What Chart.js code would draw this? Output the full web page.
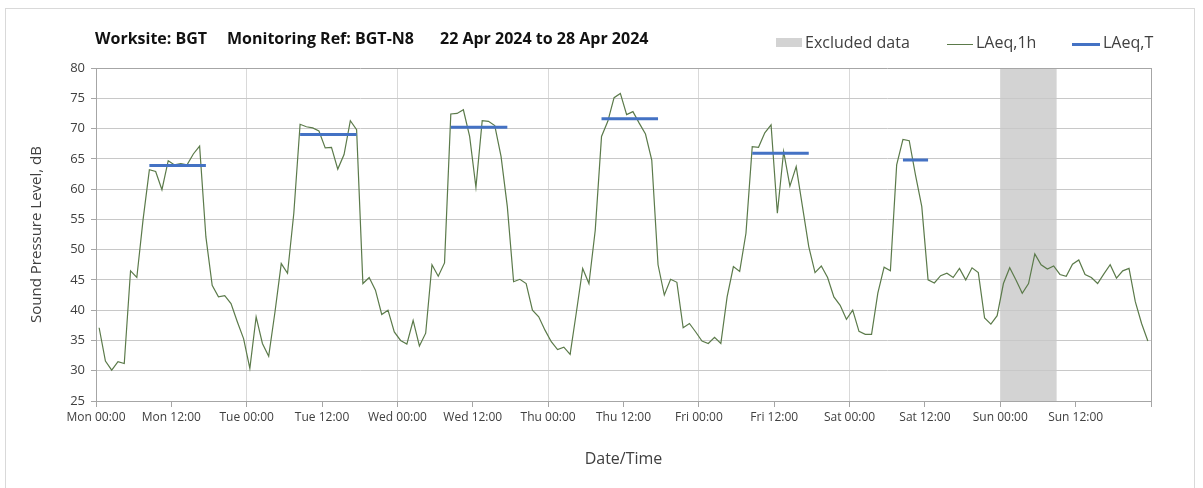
<!DOCTYPE html>
<html>
<head>
<meta charset="utf-8">
<script src="https://cdn.jsdelivr.net/npm/chart.js@4.4.1/dist/chart.umd.min.js"></script>
<style>
  html, body { margin: 0; padding: 0; background: #fff; }
  #wrap { position: relative; width: 1203px; height: 488px; overflow: hidden; font-family: "Open Sans", sans-serif; }
  #frame { position: absolute; left: 5px; top: 8px; width: 1190px; height: 500px; border: 1px solid #d9d9d9; box-sizing: border-box; }
  #chart { position: absolute; left: 0; top: 0; }
  .ttl { position: absolute; top: 30px; font-size: 16px; line-height: 16px; font-weight: bold; color: #111; white-space: nowrap; }
  .lg { position: absolute; top: 34px; font-size: 16px; line-height: 16px; color: #404040; white-space: nowrap; }
  .mk { position: absolute; }
</style>
</head>
<body>
<div id="wrap">
  <div id="frame"></div>
  <canvas id="chart" width="1203" height="488"></canvas>
  <div class="ttl" style="left:95px">Worksite: BGT</div>
  <div class="ttl" style="left:227px">Monitoring Ref: BGT-N8</div>
  <div class="ttl" style="left:440px">22 Apr 2024 to 28 Apr 2024</div>
  <div class="mk" style="left:776px;top:38px;width:26px;height:9px;background:#d3d3d3"></div>
  <div class="lg" style="left:805px">Excluded data</div>
  <div class="mk" style="left:947px;top:43.5px;width:26px;height:1px;background:#5b7a4a"></div>
  <div class="lg" style="left:976px">LAeq,1h</div>
  <div class="mk" style="left:1072px;top:42.5px;width:28px;height:3px;background:#4472C4"></div>
  <div class="lg" style="left:1103px">LAeq,T</div>
</div>
<script>
  // hourly LAeq,1h, Mon 00:00 .. Sun 23:00
  const laeq1h = [
    37.1, 31.6, 30.1, 31.5, 31.2, 46.5, 45.4, 55.0, 63.2, 62.9, 59.9, 64.7, 64.0, 64.2, 64.0, 65.8, 67.1, 52.1, 44.1, 42.2, 42.4, 41.1, 38.1, 35.3,
    30.4, 38.9, 34.5, 32.4, 39.7, 47.7, 46.1, 56.0, 70.7, 70.3, 70.1, 69.6, 66.8, 66.9, 63.3, 65.7, 71.3, 69.8, 44.4, 45.4, 43.3, 39.3, 40.0, 36.4,
    35.0, 34.4, 38.3, 34.1, 36.2, 47.5, 45.6, 47.8, 72.4, 72.5, 73.1, 68.7, 60.3, 71.3, 71.2, 70.5, 65.4, 57.1, 44.7, 45.1, 44.4, 40.0, 38.9, 36.7,
    34.8, 33.5, 33.9, 32.7, 39.7, 46.9, 44.4, 53.2, 68.7, 71.2, 75.1, 75.8, 72.3, 72.8, 70.9, 69.1, 64.8, 47.5, 42.5, 45.1, 44.6, 37.1, 37.8, 36.4,
    34.9, 34.5, 35.5, 34.5, 42.2, 47.2, 46.4, 52.7, 67.0, 66.9, 69.3, 70.6, 56.0, 66.2, 60.5, 63.7, 57.1, 50.5, 46.2, 47.3, 45.4, 42.2, 40.8, 38.5,
    40.0, 36.5, 36.0, 36.0, 42.8, 47.1, 46.5, 64.0, 68.2, 68.0, 62.3, 57.1, 45.0, 44.5, 45.7, 46.1, 45.4, 46.9, 45.0, 47.0, 46.2, 38.7, 37.7, 39.1,
    44.4, 47.0, 45.0, 42.8, 44.4, 49.3, 47.5, 46.8, 47.3, 45.9, 45.6, 47.6, 48.3, 45.9, 45.4, 44.4, 46.0, 47.5, 45.3, 46.5, 46.9, 41.4, 37.8, 34.9
  ];

  // LAeq,T daytime periods (first and last hour index)
  const periodStart = [8, 32, 56, 80, 104, 128];
  const periodEnd   = [17, 41, 65, 89, 113, 132];
  const laeqT       = [63.9, 69.0, 70.2, 71.6, 65.9, 64.8];

  // excluded data window (hours from Mon 00:00)
  const excludedFrom = 144;
  const excludedTo = 153;

  const tickLabels = [
    "Mon 00:00", "Mon 12:00", "Tue 00:00", "Tue 12:00", "Wed 00:00", "Wed 12:00", "Thu 00:00",
    "Thu 12:00", "Fri 00:00", "Fri 12:00", "Sat 00:00", "Sat 12:00", "Sun 00:00", "Sun 12:00", ""
  ];

  const hourPoints = laeq1h.map((v, i) => ({ x: i + 0.5, y: v }));

  const periodPoints = [];
  laeqT.forEach((v, k) => {
    periodPoints.push({ x: periodStart[k] + 0.5, y: v });
    periodPoints.push({ x: periodEnd[k] + 0.5, y: v });
    periodPoints.push({ x: periodEnd[k] + 1, y: null }); // break
  });

  const excludedPoints = [
    { x: excludedFrom, y: 80 },
    { x: excludedTo, y: 80 }
  ];

  Chart.defaults.font.family = "'Open Sans', sans-serif";
  Chart.defaults.color = "#404040";

  const ctx = document.getElementById("chart").getContext("2d");
  new Chart(ctx, {
    type: "line",
    data: {
      datasets: [
        {
          label: "LAeq,T",
          data: periodPoints,
          borderColor: "#4472C4",
          borderWidth: 3,
          borderCapStyle: "butt",
          pointRadius: 0,
          spanGaps: false,
          order: 0,
        },
        {
          label: "LAeq,1h",
          data: hourPoints,
          borderColor: "#5b7a4a",
          borderWidth: 1.2,
          pointRadius: 0,
          tension: 0,
          order: 1,
        },
        {
          label: "Excluded data",
          data: excludedPoints,
          borderColor: "rgba(0,0,0,0)",
          borderWidth: 0,
          backgroundColor: "#d3d3d3",
          fill: "start",
          pointRadius: 0,
          order: 2,
        },
      ],
    },
    options: {
      responsive: false,
      animation: false,
      events: [],
      layout: { padding: { left: 20, right: 52, top: 68, bottom: 0 } },
      plugins: {
        legend: { display: false },
        tooltip: { enabled: false },
        filler: { drawTime: "beforeDraw" }, // band sits under the gridlines
      },
      scales: {
        x: {
          type: "linear",
          min: 0,
          max: 168,
          afterFit: (s) => { s.height = 87; },
          border: { color: "#a6a6a6" },
          grid: {
            color: (c) => {
              if (!c.tick || c.tick.value % 24 !== 0) return "rgba(0,0,0,0)";
              return c.tick.value === 168 ? "#a6a6a6" : "#d9d9d9";
            },
            tickColor: "#a6a6a6",
            tickLength: 6,
          },
          ticks: {
            stepSize: 12,
            autoSkip: false,
            maxRotation: 0,
            padding: 3,
            color: "#404040",
            font: { size: 12 },
            callback: (v, i) => tickLabels[i],
          },
          title: {
            display: true,
            text: "Date/Time",
            color: "#404040",
            font: { size: 16 },
            padding: { top: 0, bottom: 19 },
          },
        },
        y: {
          min: 25,
          max: 80,
          afterFit: (s) => { s.width = 76; },
          border: { color: "#a6a6a6" },
          grid: {
            color: (c) => (c.tick && c.tick.value === 80 ? "#a6a6a6" : "#c8c8c8"),
            tickColor: "#a6a6a6",
            tickLength: 5,
          },
          ticks: {
            stepSize: 5,
            padding: 6,
            color: "#404040",
            font: { size: 13 },
          },
          title: {
            display: true,
            text: "Sound Pressure Level, dB",
            color: "#404040",
            font: { size: 15 },
            padding: { top: 8, bottom: 0 },
          },
        },
      },
    },
  });
</script>
</body>
</html>
